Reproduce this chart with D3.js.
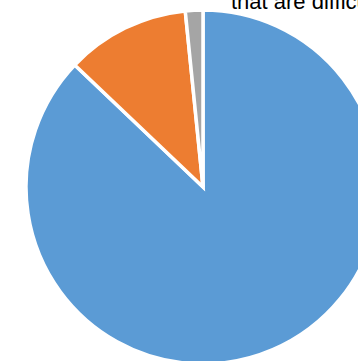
<!DOCTYPE html>
<html>
<head>
<meta charset="utf-8">
<script src="https://cdn.jsdelivr.net/npm/d3@7"></script>
<style>
  html, body { margin: 0; padding: 0; background: #fff; overflow: hidden; }
  svg { display: block; }
</style>
</head>
<body>
<svg id="chart" width="358" height="361"></svg>
<script>
// Slice categories and their shares (percent)
const categories = ["A", "B", "C"];
const shares = [87.1, 11.3, 1.6];
const colors = ["#5B9BD5", "#ED7D31", "#A5A5A5"];

// Title fragment visible at the top of the frame
const titleText = "that are difficult";

const svg = d3.select("#chart");
const cx = 203, cy = 187, radius = 177;

const pie = d3.pie().sort(null).value(d => d.value);
const arc = d3.arc().innerRadius(0).outerRadius(radius);
const color = d3.scaleOrdinal().domain(categories).range(colors);

const data = categories.map((c, i) => ({ category: c, value: shares[i] }));

svg.append("g")
  .attr("transform", `translate(${cx},${cy})`)
  .selectAll("path")
  .data(pie(data))
  .join("path")
  .attr("d", arc)
  .attr("fill", d => color(d.data.category))
  .attr("stroke", "#fff")
  .attr("stroke-width", 3.5)
  .attr("stroke-linejoin", "miter");

svg.append("text")
  .attr("x", 231)
  .attr("y", 9)
  .attr("font-family", "Liberation Sans, Arial, sans-serif")
  .attr("font-size", 22)
  .attr("fill", "#000")
  .text(titleText);
</script>
</body>
</html>
